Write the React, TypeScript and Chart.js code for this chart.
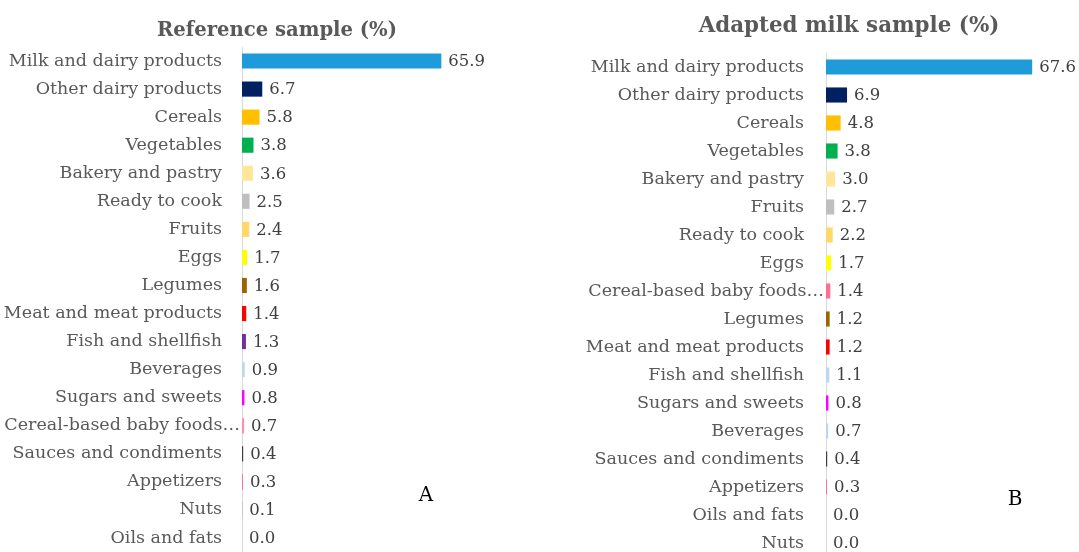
import { useEffect, useRef } from "react";
import { Chart, registerables } from "chart.js";

Chart.register(...registerables);

// ---------- Data ----------
const refCategories = [
  "Milk and dairy products",
  "Other dairy products",
  "Cereals",
  "Vegetables",
  "Bakery and pastry",
  "Ready to cook",
  "Fruits",
  "Eggs",
  "Legumes",
  "Meat and meat products",
  "Fish and shellfish",
  "Beverages",
  "Sugars and sweets",
  "Cereal-based baby foods…",
  "Sauces and condiments",
  "Appetizers",
  "Nuts",
  "Oils and fats",
];
const refValues = [65.9, 6.7, 5.8, 3.8, 3.6, 2.5, 2.4, 1.7, 1.6, 1.4, 1.3, 0.9, 0.8, 0.7, 0.4, 0.3, 0.1, 0.0];
const refColors = [
  "#1F9BD9", "#002060", "#FFC000", "#00B050", "#FFE699", "#BFBFBF", "#FFD966", "#FFFF00",
  "#996600", "#FF0000", "#7030A0", "#BDD7EE", "#FF00FF", "#FF8FAB", "#404040", "#FF6699",
  "#A6A6A6", "#A6A6A6",
];

const adaCategories = [
  "Milk and dairy products",
  "Other dairy products",
  "Cereals",
  "Vegetables",
  "Bakery and pastry",
  "Fruits",
  "Ready to cook",
  "Eggs",
  "Cereal-based baby foods…",
  "Legumes",
  "Meat and meat products",
  "Fish and shellfish",
  "Sugars and sweets",
  "Beverages",
  "Sauces and condiments",
  "Appetizers",
  "Oils and fats",
  "Nuts",
];
const adaValues = [67.6, 6.9, 4.8, 3.8, 3.0, 2.7, 2.2, 1.7, 1.4, 1.2, 1.2, 1.1, 0.8, 0.7, 0.4, 0.3, 0.0, 0.0];
const adaColors = [
  "#1F9BD9", "#002060", "#FFC000", "#00B050", "#FFE699", "#BFBFBF", "#FFD966", "#FFFF00",
  "#FF6F91", "#996600", "#FF0000", "#BDD7EE", "#FF00FF", "#BDD7EE", "#404040", "#FF6699",
  "#A6A6A6", "#A6A6A6",
];

const refTitle = "Reference sample (%)";
const adaTitle = "Adapted milk sample (%)";
const axisMax = 80;

// ---------- Styling ----------
const FONT = "'DejaVu Serif', serif";
const LABEL_COLOR = "#595959";
const VALUE_COLOR = "#404040";

type PanelProps = {
  categories: string[];
  values: number[];
  colors: string[];
  title: string;
  titleSize: number;
  letter: string;
  left: number;
  width: number;
  height: number;
  padTop: number;
  padRight: number;
  axisWidth: number;
  tickPad: number;
  titleX: number;
  titleY: number;
  letterX: number;
  letterY: number;
};

function Panel(p: PanelProps) {
  const canvasRef = useRef<HTMLCanvasElement | null>(null);

  useEffect(() => {
    if (!canvasRef.current) return;
    const overlay = {
      id: "overlay",
      beforeDraw(chart: any) {
        // truncated labels overflow toward the axis, as in the original
        const scale = chart.scales.y;
        const items = scale.getLabelItems();
        items.forEach((it: any) => {
          const text = String(it.label);
          if (text.endsWith("…") && it.options && it.options.translation) {
            it.options.translation[0] += p.tickPad - 2;
          }
        });
      },
      afterDatasetsDraw(chart: any) {
        const ctx = chart.ctx;
        const meta = chart.getDatasetMeta(0);
        const data = chart.data.datasets[0].data as number[];
        ctx.save();
        ctx.font = `16.5px ${FONT}`;
        ctx.fillStyle = VALUE_COLOR;
        ctx.textAlign = "left";
        ctx.textBaseline = "middle";
        meta.data.forEach((bar: any, i: number) => {
          ctx.fillText(Number(data[i]).toFixed(1), bar.x + 7, bar.y + 1);
        });
        ctx.restore();
      },
      afterDraw(chart: any) {
        const ctx = chart.ctx;
        ctx.save();
        ctx.font = `bold ${p.titleSize}px ${FONT}`;
        ctx.fillStyle = LABEL_COLOR;
        ctx.textAlign = "center";
        ctx.textBaseline = "alphabetic";
        ctx.fillText(p.title, p.titleX, p.titleY);
        ctx.font = `20px ${FONT}`;
        ctx.fillStyle = "#000000";
        ctx.textBaseline = "middle";
        ctx.fillText(p.letter, p.letterX, p.letterY);
        ctx.restore();
      },
    };

    const chart = new Chart(canvasRef.current, {
      type: "bar",
      data: {
        labels: p.categories,
        datasets: [
          {
            data: p.values,
            backgroundColor: p.colors,
            borderWidth: 0,
            barPercentage: 0.54,
            categoryPercentage: 1,
          },
        ],
      },
      options: {
        indexAxis: "y",
        animation: false,
        responsive: false,
        devicePixelRatio: 1,
        layout: { padding: { top: p.padTop, right: p.padRight, bottom: 0, left: 0 } },
        plugins: {
          legend: { display: false },
          title: { display: false },
          tooltip: { enabled: false },
        },
        scales: {
          x: {
            display: false,
            min: 0,
            max: axisMax,
          },
          y: {
            afterFit: (scale: any) => {
              scale.width = p.axisWidth;
              scale.paddingTop = 0;
              scale.paddingBottom = 0;
            },
            grid: { display: false, drawTicks: false },
            border: { display: true, color: "#D9D9D9", width: 1 },
            ticks: {
              color: LABEL_COLOR,
              padding: p.tickPad,
              autoSkip: false,
              font: { family: FONT, size: 17.5 },
            },
          },
        },
      },
      plugins: [overlay],
    });
    return () => chart.destroy();
  }, []);

  return (
    <div style={{ position: "absolute", left: p.left, top: 0, width: p.width, height: p.height }}>
      <canvas ref={canvasRef} width={p.width} height={p.height} style={{ display: "block" }} />
    </div>
  );
}

export default function App() {
  return (
    <div
      style={{
        position: "fixed",
        left: 0,
        top: 0,
        width: 1079,
        height: 552,
        overflow: "hidden",
        background: "#ffffff",
      }}
    >
      <Panel
        categories={refCategories}
        values={refValues}
        colors={refColors}
        title={refTitle}
        titleSize={19.6}
        letter="A"
        left={0}
        width={545}
        height={552}
        padTop={47}
        padRight={61}
        axisWidth={242}
        tickPad={20}
        titleX={277}
        titleY={36}
        letterX={426}
        letterY={496}
      />
      <Panel
        categories={adaCategories}
        values={adaValues}
        colors={adaColors}
        title={adaTitle}
        titleSize={21.4}
        letter="B"
        left={560}
        width={519}
        height={557}
        padTop={53}
        padRight={9}
        axisWidth={266}
        tickPad={22}
        titleX={289}
        titleY={32}
        letterX={455}
        letterY={500}
      />
    </div>
  );
}
